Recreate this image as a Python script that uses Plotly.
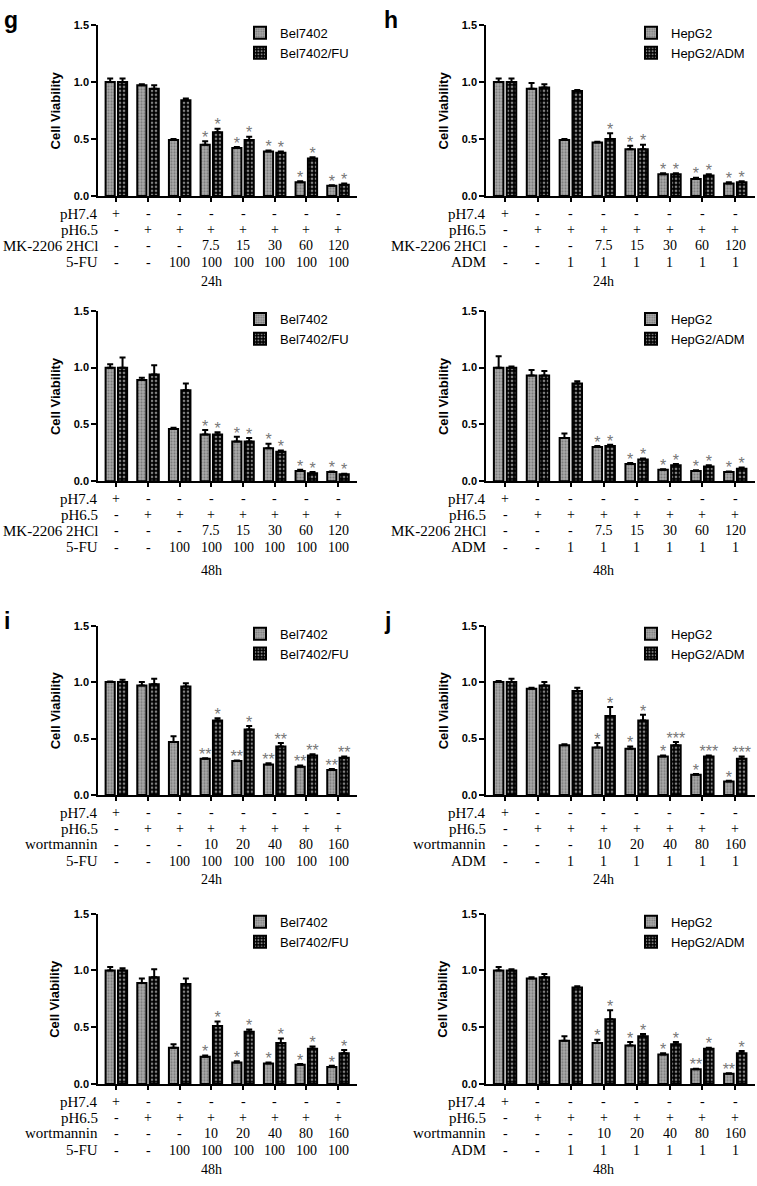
import plotly.graph_objects as go

W, H = 757, 1186

# ---------------- data ----------------
groups = [0, 1, 2, 3, 4, 5, 6, 7]
ph74 = ["+", "-", "-", "-", "-", "-", "-", "-"]
ph65 = ["-", "+", "+", "+", "+", "+", "+", "+"]
mk_doses = ["-", "-", "-", "7.5", "15", "30", "60", "120"]
wort_doses = ["-", "-", "-", "10", "20", "40", "80", "160"]
fu_doses = ["-", "-", "100", "100", "100", "100", "100", "100"]
adm_doses = ["-", "-", "1", "1", "1", "1", "1", "1"]

# g, 24h (MK-2206, Bel7402)
g24_bel = [1.00, 0.97, 0.49, 0.45, 0.42, 0.39, 0.12, 0.09]
g24_bel_err = [0.03, 0.01, 0.01, 0.03, 0.01, 0.01, 0.01, 0.005]
g24_fu = [1.00, 0.94, 0.84, 0.56, 0.49, 0.38, 0.33, 0.10]
g24_fu_err = [0.03, 0.03, 0.015, 0.03, 0.03, 0.01, 0.01, 0.01]
g24_bel_sig = ["", "", "", "*", "*", "*", "*", "*"]
g24_fu_sig = ["", "", "", "*", "*", "*", "*", "*"]

# g, 48h
g48_bel = [1.00, 0.89, 0.46, 0.41, 0.35, 0.29, 0.09, 0.08]
g48_bel_err = [0.03, 0.02, 0.01, 0.04, 0.04, 0.04, 0.01, 0.005]
g48_fu = [1.00, 0.94, 0.80, 0.41, 0.35, 0.26, 0.07, 0.06]
g48_fu_err = [0.09, 0.08, 0.06, 0.02, 0.03, 0.01, 0.01, 0.005]
g48_bel_sig = ["", "", "", "*", "*", "*", "*", "*"]
g48_fu_sig = ["", "", "", "*", "*", "*", "*", "*"]

# h, 24h (MK-2206, HepG2)
h24_hep = [1.00, 0.94, 0.49, 0.47, 0.41, 0.19, 0.15, 0.11]
h24_hep_err = [0.03, 0.05, 0.01, 0.005, 0.03, 0.01, 0.01, 0.01]
h24_adm = [1.00, 0.95, 0.92, 0.50, 0.41, 0.19, 0.18, 0.12]
h24_adm_err = [0.03, 0.03, 0.01, 0.05, 0.04, 0.01, 0.01, 0.01]
h24_hep_sig = ["", "", "", "", "*", "*", "*", "*"]
h24_adm_sig = ["", "", "", "*", "*", "*", "*", "*"]

# h, 48h
h48_hep = [1.00, 0.93, 0.38, 0.30, 0.15, 0.10, 0.09, 0.08]
h48_hep_err = [0.10, 0.05, 0.04, 0.01, 0.01, 0.005, 0.005, 0.005]
h48_adm = [1.00, 0.93, 0.86, 0.31, 0.19, 0.14, 0.13, 0.11]
h48_adm_err = [0.01, 0.04, 0.02, 0.01, 0.01, 0.01, 0.01, 0.01]
h48_hep_sig = ["", "", "", "*", "*", "*", "*", "*"]
h48_adm_sig = ["", "", "", "*", "*", "*", "*", "*"]

# i, 24h (wortmannin, Bel7402)
i24_bel = [1.00, 0.97, 0.47, 0.32, 0.30, 0.27, 0.25, 0.22]
i24_bel_err = [0.005, 0.03, 0.05, 0.005, 0.005, 0.01, 0.01, 0.01]
i24_fu = [1.00, 0.98, 0.96, 0.66, 0.58, 0.43, 0.35, 0.33]
i24_fu_err = [0.02, 0.05, 0.03, 0.02, 0.03, 0.03, 0.01, 0.01]
i24_bel_sig = ["", "", "", "**", "**", "**", "**", "**"]
i24_fu_sig = ["", "", "", "*", "*", "**", "**", "**"]

# i, 48h
i48_bel = [1.00, 0.89, 0.32, 0.24, 0.19, 0.18, 0.17, 0.15]
i48_bel_err = [0.03, 0.04, 0.03, 0.01, 0.01, 0.01, 0.005, 0.01]
i48_fu = [1.00, 0.94, 0.88, 0.51, 0.46, 0.36, 0.31, 0.27]
i48_fu_err = [0.02, 0.07, 0.05, 0.04, 0.02, 0.04, 0.02, 0.03]
i48_bel_sig = ["", "", "", "*", "*", "*", "*", "*"]
i48_fu_sig = ["", "", "", "*", "*", "*", "*", "*"]

# j, 24h (wortmannin, HepG2)
j24_hep = [1.00, 0.94, 0.44, 0.42, 0.41, 0.34, 0.18, 0.12]
j24_hep_err = [0.01, 0.01, 0.01, 0.04, 0.02, 0.01, 0.005, 0.005]
j24_adm = [1.00, 0.97, 0.92, 0.70, 0.66, 0.44, 0.34, 0.32]
j24_adm_err = [0.03, 0.03, 0.03, 0.08, 0.05, 0.03, 0.01, 0.02]
j24_hep_sig = ["", "", "", "*", "*", "*", "*", "*"]
j24_adm_sig = ["", "", "", "*", "*", "***", "***", "***"]

# j, 48h
j48_hep = [1.00, 0.93, 0.38, 0.36, 0.34, 0.26, 0.13, 0.09]
j48_hep_err = [0.03, 0.01, 0.04, 0.03, 0.03, 0.01, 0.005, 0.005]
j48_adm = [1.00, 0.94, 0.85, 0.57, 0.42, 0.35, 0.31, 0.27]
j48_adm_err = [0.01, 0.03, 0.01, 0.08, 0.02, 0.02, 0.01, 0.02]
j48_hep_sig = ["", "", "", "*", "*", "*", "**", "**"]
j48_adm_sig = ["", "", "", "*", "*", "*", "*", "*"]

yticks = [0.0, 0.5, 1.0, 1.5]

panels = [
    dict(letter="g", time="24h", names=("Bel7402", "Bel7402/FU"), drug1=("MK-2206 2HCl", mk_doses), drug2=("5-FU", fu_doses),
         a=g24_bel, ae=g24_bel_err, asig=g24_bel_sig, b=g24_fu, be=g24_fu_err, bsig=g24_fu_sig),
    dict(letter="h", time="24h", names=("HepG2", "HepG2/ADM"), drug1=("MK-2206 2HCl", mk_doses), drug2=("ADM", adm_doses),
         a=h24_hep, ae=h24_hep_err, asig=h24_hep_sig, b=h24_adm, be=h24_adm_err, bsig=h24_adm_sig),
    dict(letter="", time="48h", names=("Bel7402", "Bel7402/FU"), drug1=("MK-2206 2HCl", mk_doses), drug2=("5-FU", fu_doses),
         a=g48_bel, ae=g48_bel_err, asig=g48_bel_sig, b=g48_fu, be=g48_fu_err, bsig=g48_fu_sig),
    dict(letter="", time="48h", names=("HepG2", "HepG2/ADM"), drug1=("MK-2206 2HCl", mk_doses), drug2=("ADM", adm_doses),
         a=h48_hep, ae=h48_hep_err, asig=h48_hep_sig, b=h48_adm, be=h48_adm_err, bsig=h48_adm_sig),
    dict(letter="i", time="24h", names=("Bel7402", "Bel7402/FU"), drug1=("wortmannin", wort_doses), drug2=("5-FU", fu_doses),
         a=i24_bel, ae=i24_bel_err, asig=i24_bel_sig, b=i24_fu, be=i24_fu_err, bsig=i24_fu_sig),
    dict(letter="j", time="24h", names=("HepG2", "HepG2/ADM"), drug1=("wortmannin", wort_doses), drug2=("ADM", adm_doses),
         a=j24_hep, ae=j24_hep_err, asig=j24_hep_sig, b=j24_adm, be=j24_adm_err, bsig=j24_adm_sig),
    dict(letter="", time="48h", names=("Bel7402", "Bel7402/FU"), drug1=("wortmannin", wort_doses), drug2=("5-FU", fu_doses),
         a=i48_bel, ae=i48_bel_err, asig=i48_bel_sig, b=i48_fu, be=i48_fu_err, bsig=i48_fu_sig),
    dict(letter="", time="48h", names=("HepG2", "HepG2/ADM"), drug1=("wortmannin", wort_doses), drug2=("ADM", adm_doses),
         a=j48_hep, ae=j48_hep_err, asig=j48_hep_sig, b=j48_adm, be=j48_adm_err, bsig=j48_adm_sig),
]

# ---------------- layout geometry (pixels) ----------------
cols = [(98, 357), (486, 755)]
rows = [(19, 192), (308, 480), (626, 797), (917, 1089)]
time_off = [86, 90, 85, 86]
row_off = [18, 34, 50, 67]
XR = [-0.58, 7.6]
BW = 0.29
OFF_A, OFF_B = -0.34, 0.05

SANS = "Liberation Sans, Arial, sans-serif"
SERIF = "Liberation Serif, Times New Roman, serif"

def px(x):
    return x / W

def py(y):
    return 1 - y / H

fig = go.Figure()
layout = dict(width=W, height=H, margin=dict(l=0, r=0, t=0, b=0),
              paper_bgcolor="white", plot_bgcolor="white", barmode="overlay",
              showlegend=True)
annotations = []

for k, p in enumerate(panels):
    n = k + 1
    r, c = divmod(k, 2)
    x0, x1 = cols[c]
    ytop, ybot = rows[r]
    xa = "x" if n == 1 else f"x{n}"
    ya = "y" if n == 1 else f"y{n}"
    lg = "legend" if n == 1 else f"legend{n}"

    for vals, errs, sigs, name, off, pat in [
        (p["a"], p["ae"], p["asig"], p["names"][0], OFF_A,
         dict(shape=".", fgcolor="#454545", bgcolor="#ababab", size=3, solidity=0.4)),
        (p["b"], p["be"], p["bsig"], p["names"][1], OFF_B,
         dict(shape=".", fgcolor="white", bgcolor="#000000", size=4, solidity=0.35)),
    ]:
        fig.add_trace(go.Bar(
            x=groups, y=vals, name=name, width=BW, offset=off,
            marker=dict(color="#111111", line=dict(color="black", width=2), pattern=pat),
            error_y=dict(type="data", symmetric=False, array=errs, arrayminus=[0] * len(errs),
                         color="black", thickness=2, width=3),
            xaxis=xa, yaxis=ya, legend=lg, showlegend=True,
        ))
        fig.add_trace(go.Scatter(
            x=[g + off + BW / 2 for g in groups], y=[v + e + 0.02 for v, e in zip(vals, errs)],
            text=sigs, mode="text", textposition="middle center",
            textfont=dict(family=SANS, size=16, color="#777777"),
            cliponaxis=False, showlegend=False, hoverinfo="skip",
            xaxis=xa, yaxis=ya,
        ))

    layout["xaxis" if n == 1 else f"xaxis{n}"] = dict(
        domain=[px(x0), px(x1)], anchor=ya, range=XR, tickvals=groups, showticklabels=False,
        ticks="outside", ticklen=4, tickwidth=1.5, tickcolor="black",
        showline=True, linecolor="black", linewidth=1.5, showgrid=False, zeroline=False,
    )
    layout["yaxis" if n == 1 else f"yaxis{n}"] = dict(
        domain=[py(ybot), py(ytop)], anchor=xa, range=[0, 1.5], tickvals=yticks, tickformat=".1f",
        ticks="outside", ticklen=5, tickwidth=1.5, tickcolor="black",
        tickfont=dict(family=SANS, size=11, color="black", weight="bold"),
        showline=True, linecolor="black", linewidth=1.5, showgrid=False, zeroline=False,
    )
    layout[lg] = dict(
        x=px(x0 + (142 if c == 0 else 145)), y=py(ytop - 7), xanchor="left", yanchor="top",
        bgcolor="rgba(0,0,0,0)", font=dict(family=SANS, size=13, color="black"),
        itemclick=False, itemdoubleclick=False,
    )

    # y title
    annotations.append(dict(
        text="<b>Cell Viability</b>", xref="paper", yref="paper",
        x=px(x0 - 43), y=py((ytop + ybot) / 2), textangle=-90, showarrow=False,
        font=dict(family=SANS, size=13, color="black"), xanchor="center", yanchor="middle",
    ))

    # treatment rows
    row_names = ["pH7.4", "pH6.5", p["drug1"][0], p["drug2"][0]]
    row_vals = [ph74, ph65, p["drug1"][1], p["drug2"][1]]
    for ri in range(4):
        yy = py(ybot + row_off[ri])
        annotations.append(dict(
            text=row_names[ri], xref="paper", yref="paper", x=px(x0 + 2), y=yy,
            xanchor="right", yanchor="middle", showarrow=False,
            font=dict(family=SERIF, size=15, color="black"),
        ))
        for g, v in zip(groups, row_vals[ri]):
            annotations.append(dict(
                text=v, xref=xa, yref="paper", x=g, y=yy, xanchor="center", yanchor="middle",
                showarrow=False, font=dict(family=SERIF, size=14, color="black"),
            ))
    annotations.append(dict(
        text=p["time"], xref=xa, yref="paper", x=3, y=py(ybot + time_off[r]),
        xanchor="center", yanchor="middle", showarrow=False,
        font=dict(family=SERIF, size=14, color="black"),
    ))
    if p["letter"]:
        annotations.append(dict(
            text=f"<b>{p['letter']}</b>", xref="paper", yref="paper",
            x=px(2 if c == 0 else 382), y=py(ytop - 5), xanchor="left", yanchor="middle",
            showarrow=False, font=dict(family=SANS, size=23, color="black"),
        ))

layout["annotations"] = annotations
fig.update_layout(**layout)
fig.write_html("out.html", config={"displayModeBar": False},
               post_script="document.body.style.margin='0px';document.body.style.overflow='hidden';")
